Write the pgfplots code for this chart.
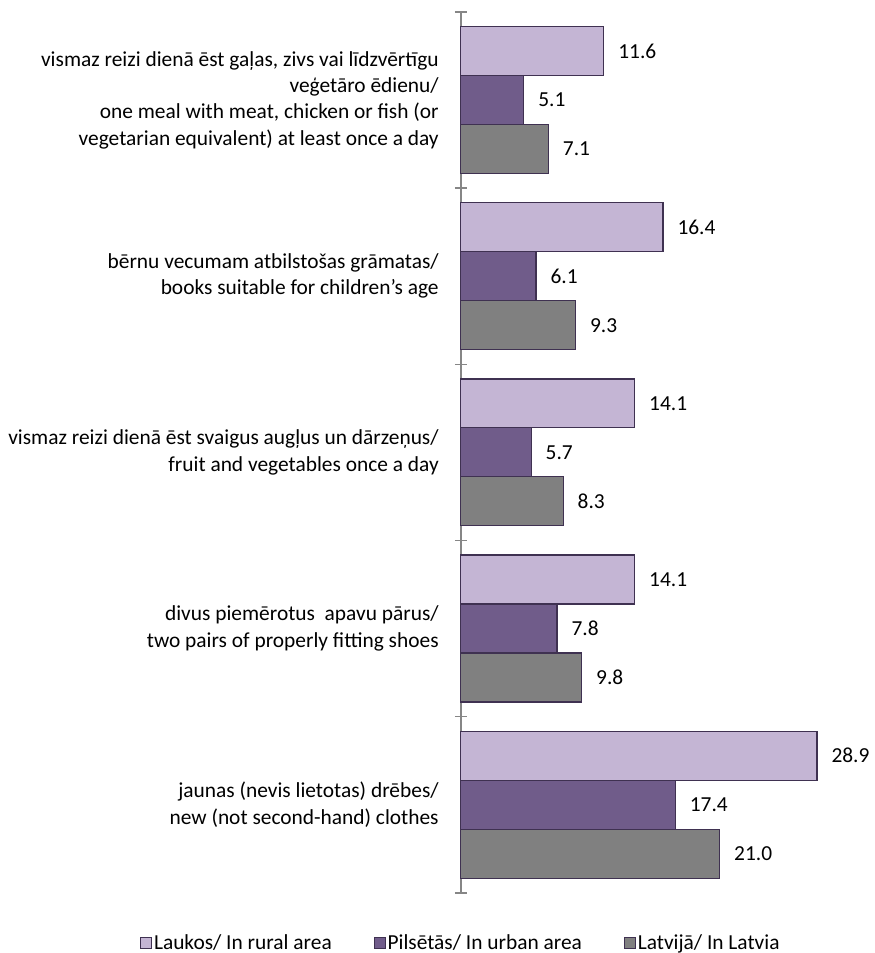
\documentclass[border=0pt]{standalone}
\usepackage{fontspec}
\setmainfont{Carlito}
\usepackage{pgfplots}
\pgfplotsset{compat=1.18}
\definecolor{lightp}{HTML}{C4B5D4}
\definecolor{darkp}{HTML}{705C8A}
\definecolor{greyb}{HTML}{808080}
\definecolor{borderc}{HTML}{3F3151}
\definecolor{axisc}{HTML}{868686}
\newcommand{\fs}{\fontsize{21.4}{26.3}\selectfont}
\begin{document}
\begin{tikzpicture}
\begin{axis}[
  name=main,
  scale only axis,
  width=414pt, height=881pt,
  xmin=0, xmax=33.6,
  ymin=-0.5, ymax=4.5,
  axis x line=none,
  axis y line*=left,
  y axis line style={draw=axisc, line width=1.5pt},
  ytick={0,1,2,3,4},
  yticklabels={
    {jaunas (nevis lietotas) drēbes/\\new (not second-hand) clothes},
    {divus piemērotus \ apavu pārus/\\two pairs of properly fitting shoes},
    {vismaz reizi dienā ēst svaigus augļus un dārzeņus/\\fruit and vegetables once a day},
    {bērnu vecumam atbilstošas grāmatas/\\books suitable for children’s age},
    {vismaz reizi dienā ēst gaļas, zivs vai līdzvērtīgu\\veģetāro ēdienu/\\one meal with meat, chicken or fish (or\\vegetarian equivalent) at least once a day}
  },
  major tick length=0pt,
  minor ytick={-0.5,0.5,1.5,2.5,3.5,4.5},
  minor tick length=12pt,
  minor tick style={draw=axisc, line width=1.5pt, xshift=6pt},
  yticklabel style={align=right, font=\fs, inner sep=0pt, anchor=east, xshift=-22pt},
  xbar,
  bar width=49pt,
  clip=false,
  nodes near coords={\pgfmathprintnumber[fixed,fixed zerofill,precision=1,assume math mode=true]{\pgfplotspointmeta}},
  nodes near coords style={anchor=west, inner sep=0pt, xshift=14pt, font=\fs, text=black},
  legend columns=3,
  legend style={at={(0,-0.0568)}, anchor=center, draw=none, font=\fs,
    cells={anchor=west}, inner sep=0pt,
    nodes={inner sep=2pt},
    /tikz/every even column/.append style={column sep=40pt}},
  legend image code/.code={\draw[#1, line width=0.8pt] (0pt,-5.5pt) rectangle (11pt,5.5pt);},
]
\addplot[fill=lightp, draw=borderc, line width=1.2pt, bar shift=49pt] coordinates {(28.9,0) (14.1,1) (14.1,2) (16.4,3) (11.6,4)};
\addlegendentry{Laukos/ In rural area}
\addplot[fill=darkp, draw=borderc, line width=1.2pt, bar shift=0pt] coordinates {(17.4,0) (7.8,1) (5.7,2) (6.1,3) (5.1,4)};
\addlegendentry{Pilsētās/ In urban area}
\addplot[fill=greyb, draw=borderc, line width=1.2pt, bar shift=-49pt] coordinates {(21.0,0) (9.8,1) (8.3,2) (9.3,3) (7.1,4)};
\addlegendentry{Latvijā/ In Latvia}
\end{axis}
\path (main.south west) ++(-461pt,-60pt) coordinate (bl);
\path (main.north east) ++(0pt,12pt) coordinate (tr);
\path (bl) rectangle (tr);
\end{tikzpicture}
\end{document}
